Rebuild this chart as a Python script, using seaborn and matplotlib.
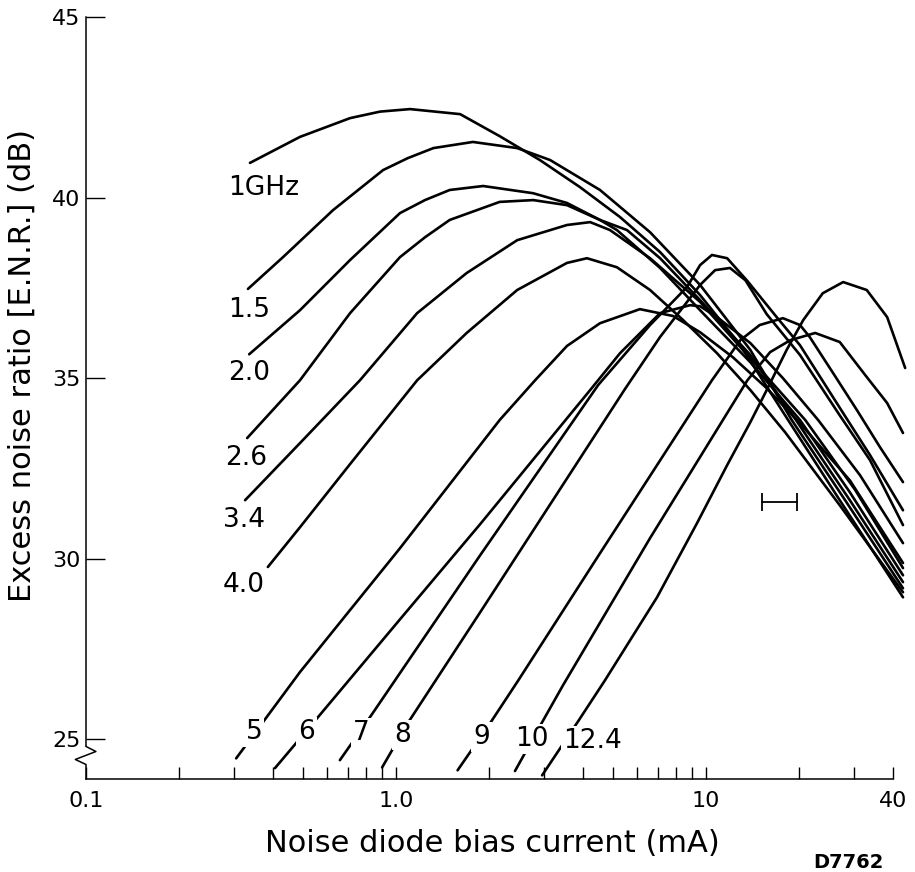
import numpy as np
import pandas as pd
import matplotlib
matplotlib.use("Agg")
import matplotlib.pyplot as plt
import seaborn as sns
from matplotlib.ticker import FixedLocator, NullFormatter

# curve names as printed next to each curve
freq_labels = ["1GHz", "1.5", "2.0", "2.6", "3.4", "4.0",
               "5", "6", "7", "8", "9", "10", "12.4"]

# noise diode bias current (mA) and ENR (dB)
i_1g = [0.338, 0.49, 0.711, 0.888, 1.11, 1.61, 2.16, 2.91, 3.92, 5.28, 7.11, 9.57, 12.9, 18.4, 27.0, 43.2]
e_1g = [40.96, 41.68, 42.20, 42.38, 42.45, 42.31, 41.70, 41.04, 40.29, 39.46, 38.49, 37.30, 35.91, 33.84, 31.62, 28.93]

i_1g5 = [0.333, 0.432, 0.626, 0.908, 1.09, 1.32, 1.77, 2.46, 3.14, 4.55, 6.6, 9.57, 13.9, 18.9, 28.1, 43.2]
e_1g5 = [37.47, 38.35, 39.65, 40.76, 41.09, 41.37, 41.54, 41.37, 41.04, 40.21, 39.04, 37.58, 35.78, 33.84, 31.62, 29.18]

i_2g0 = [0.336, 0.49, 0.711, 1.03, 1.24, 1.49, 1.91, 2.77, 3.56, 4.55, 5.56, 7.11, 9.57, 13.9, 19.5, 29.1, 43.2]
e_2g0 = [35.66, 36.88, 38.27, 39.57, 39.93, 40.21, 40.32, 40.12, 39.85, 39.38, 39.10, 38.32, 37.16, 35.64, 33.84, 31.62, 29.35]

i_2g6 = [0.331, 0.49, 0.711, 1.03, 1.24, 1.49, 2.16, 2.77, 3.56, 4.55, 5.16, 7.11, 9.57, 13.9, 20.1, 29.1, 43.2]
e_2g6 = [33.34, 34.94, 36.80, 38.35, 38.90, 39.38, 39.88, 39.93, 39.79, 39.38, 39.10, 38.05, 36.88, 35.44, 33.84, 31.84, 29.54]

i_3g4 = [0.326, 0.49, 0.765, 1.17, 1.69, 2.46, 3.56, 4.23, 4.90, 6.6, 9.57, 13.9, 20.9, 30.3, 43.2]
e_3g4 = [31.62, 33.20, 34.94, 36.80, 37.91, 38.82, 39.24, 39.32, 39.10, 38.32, 37.11, 35.55, 33.84, 31.90, 29.74]

i_4g0 = [0.386, 0.49, 0.711, 1.17, 1.69, 2.46, 3.56, 4.13, 5.16, 6.6, 8.43, 10.85, 13.9, 18.0, 27.0, 43.2]
e_4g0 = [29.77, 30.87, 32.62, 34.94, 36.25, 37.44, 38.19, 38.32, 38.07, 37.44, 36.61, 35.69, 34.67, 33.50, 31.48, 29.07]

i_5g = [0.305, 0.49, 1.03, 2.16, 2.81, 3.56, 4.55, 6.12, 7.83, 9.57, 12.2, 15.7, 20.1, 29.1, 43.2]
e_5g = [24.47, 26.86, 30.29, 33.84, 34.94, 35.89, 36.52, 36.91, 36.72, 36.27, 35.58, 34.72, 33.75, 32.17, 29.88]

i_6g = [0.407, 0.56, 1.03, 1.87, 4.23, 5.28, 7.11, 8.88, 9.57, 10.85, 13.9, 17.7, 23.0, 31.4, 43.2]
e_6g = [24.20, 25.61, 28.32, 30.96, 34.67, 35.69, 36.80, 37.02, 36.99, 36.69, 35.97, 35.00, 33.84, 32.31, 30.43]

i_7g = [0.659, 0.824, 1.87, 4.49, 6.6, 8.68, 9.57, 10.45, 11.7, 13.6, 16.9, 20.1, 27.7, 33.8, 43.2]
e_7g = [24.42, 25.61, 30.10, 34.81, 36.47, 37.52, 38.13, 38.41, 38.32, 37.69, 36.69, 35.91, 34.03, 32.87, 31.34]

i_8g = [0.902, 1.09, 1.87, 5.48, 7.11, 9.57, 10.7, 11.95, 13.4, 15.7, 20.1, 27.0, 33.8, 43.2]
e_8g = [24.22, 25.44, 28.52, 34.70, 36.14, 37.58, 37.99, 38.05, 37.71, 36.77, 35.64, 33.97, 32.73, 30.93]

i_9g = [1.58, 2.01, 2.48, 4.55, 10.45, 12.9, 14.9, 17.7, 20.1, 21.6, 25.7, 30.7, 36.4, 43.2]
e_9g = [24.14, 25.44, 26.63, 30.15, 34.94, 36.05, 36.47, 36.66, 36.47, 36.14, 35.14, 34.11, 33.09, 32.12]

i_10g = [2.42, 2.96, 3.46, 6.6, 13.6, 16.1, 18.7, 22.5, 27.0, 33.0, 38.4, 43.2]
e_10g = [24.12, 25.47, 26.50, 30.57, 34.94, 35.72, 36.05, 36.25, 36.00, 35.03, 34.31, 33.48]

i_12g4 = [2.96, 3.87, 4.72, 6.95, 9.35, 11.7, 13.9, 15.7, 18.2, 20.6, 23.8, 27.7, 33.0, 38.4, 43.9]
e_12g4 = [24.00, 25.50, 26.63, 28.93, 30.98, 32.59, 33.78, 34.67, 35.78, 36.61, 37.35, 37.66, 37.44, 36.69, 35.28]

# horizontal bar marker (mA range at a given ENR)
bar_ma = [15.2, 19.7]
bar_db = 31.57

currents = [i_1g, i_1g5, i_2g0, i_2g6, i_3g4, i_4g0, i_5g, i_6g, i_7g, i_8g, i_9g, i_10g, i_12g4]
enrs = [e_1g, e_1g5, e_2g0, e_2g6, e_3g4, e_4g0, e_5g, e_6g, e_7g, e_8g, e_9g, e_10g, e_12g4]

rows = []
for name, xs, ys in zip(freq_labels, currents, enrs):
    for x, y in zip(xs, ys):
        rows.append((name, x, y))
df = pd.DataFrame(rows, columns=["curve", "mA", "dB"])

# where the curve names sit
label_x = [0.287, 0.287, 0.287, 0.281, 0.277, 0.277, 0.348, 0.513, 0.771, 1.053, 1.89, 2.75, 4.29]
label_y = [40.26, 36.88, 35.14, 32.78, 31.07, 29.27, 25.19, 25.19, 25.17, 25.11, 25.06, 25.0, 24.94]

sns.set_style("white")
plt.rcParams['font.family'] = ['DejaVu Sans']
plt.rcParams['text.color'] = 'black'
plt.rcParams['xtick.color'] = 'black'
plt.rcParams['ytick.color'] = 'black'
plt.rcParams['axes.edgecolor'] = 'black'

fig = plt.figure(figsize=(9.15, 8.72), dpi=100)
ax = fig.add_axes([0.094, 0.1067, 0.8989, 0.8738])

sns.lineplot(data=df, x="mA", y="dB", units="curve", estimator=None, sort=False,
             color="black", linewidth=1.9, ax=ax, legend=False)

ax.set_xscale('log')
ax.set_xlim(0.1, 45)
ax.set_ylim(23.9, 45)

for k, (lx, ly, txt) in enumerate(zip(label_x, label_y, freq_labels)):
    if k < 6:
        ax.text(lx, ly, txt, fontsize=19, ha='left', va='center', zorder=5)
    else:
        ax.text(lx, ly, txt, fontsize=19, ha='center', va='center', zorder=5,
                bbox=dict(facecolor='white', edgecolor='none', pad=1.5))

# error bar style marker
ax.plot(bar_ma, [bar_db, bar_db], color='black', lw=1.3)
ax.vlines(bar_ma, bar_db - 0.24, bar_db + 0.24, color='black', lw=1.3)

ax.spines['top'].set_visible(False)
ax.spines['right'].set_visible(False)
ax.spines['left'].set_linewidth(1.1)
ax.spines['bottom'].set_linewidth(1.1)
ax.spines['left'].set_bounds(24.8, 45)
ax.spines['bottom'].set_bounds(0.1, 40)

# axis break zigzag
ax.plot([0, 0.012, -0.013, 0, 0], [24.8, 24.66, 24.44, 24.3, 23.9],
        transform=ax.get_yaxis_transform(), clip_on=False, color='black', lw=1.1)

ax.xaxis.set_major_locator(FixedLocator([0.1, 1, 10, 40]))
ax.set_xticklabels(['0.1', '1.0', '10', '40'])
ax.xaxis.set_minor_locator(FixedLocator([0.2, 0.3, 0.4, 0.5, 0.6, 0.7, 0.8, 0.9,
                                         2, 3, 4, 5, 6, 7, 8, 9, 20, 30]))
ax.xaxis.set_minor_formatter(NullFormatter())
ax.tick_params(axis='x', which='both', direction='in', length=8.5, width=1.0,
               pad=9, labelsize=16, bottom=True)
ax.set_yticks([25, 30, 35, 40, 45])
ax.tick_params(axis='y', direction='in', length=13.5, width=1.0, pad=4,
               labelsize=16, left=True)
ax.set_xlabel("")
ax.set_ylabel("")

fig.text(492 / 915, 1 - 843 / 872, "Noise diode bias current (mA)", fontsize=22,
         ha='center', va='center')
fig.text(22 / 915, 1 - 365 / 872, "Excess noise ratio [E.N.R.] (dB)", fontsize=22,
         ha='center', va='center', rotation=90)
fig.text(848 / 915, 1 - 862 / 872, "D7762", fontsize=14, fontweight='bold',
         ha='center', va='center')

fig.savefig("out.png", dpi=100)
